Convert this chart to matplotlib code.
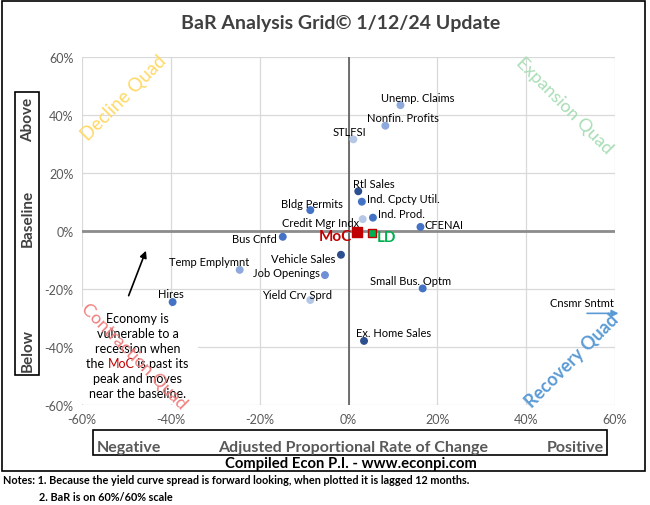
import matplotlib
matplotlib.use("Agg")
import matplotlib.pyplot as plt
from matplotlib.patches import Rectangle

plt.rcParams['font.family'] = ['Lato', 'DejaVu Sans']

# indicator values, in percent (x = adjusted proportional rate of change, y = BaR)
names = ['Unemp. Claims', 'Nonfin. Profits', 'STLFSI', 'Rtl Sales', 'Ind. Cpcty Util.',
         'Credit Mgr Indx', 'Ind. Prod.', 'CFENAI', 'Bldg Permits', 'Bus Cnfd',
         'Vehicle Sales', 'Temp Emplymnt', 'Job Openings', 'Small Bus. Optm',
         'Yield Crv Sprd', 'Hires', 'Ex. Home Sales']
x_vals = [11.7, 8.3, 1.1, 2.2, 3.0, 3.2, 5.5, 16.2, -8.6, -14.8,
          -1.7, -24.5, -5.3, 16.7, -8.6, -39.6, 3.5]
y_vals = [43.4, 36.3, 31.6, 13.7, 10.1, 4.1, 4.6, 1.4, 7.2, -2.0,
          -8.2, -13.4, -15.2, -19.8, -23.8, -24.5, -37.9]

moc = (2.0, -0.3)
ld = (5.2, -0.7)
cnsmr_y = -28.4   # off the scale to the right, drawn as an arrow

ticks = [-60, -40, -20, 0, 20, 40, 60]
tick_labels = ['-60%', '-40%', '-20%', '0%', '20%', '40%', '60%']

# styles
navy, mid, light, pale = '#2E4F8F', '#4472C4', '#8EA9DB', '#B4C7E7'
colors = [light, light, pale, navy, mid, pale, mid, mid, mid, mid,
          navy, light, '#6F8FD6', mid, pale, mid, navy]
# label offsets in pixels and horizontal alignment
label_pos = {
    'Unemp. Claims': (17, 8, 'center'), 'Nonfin. Profits': (18, 8, 'center'),
    'STLFSI': (-4, 8, 'center'), 'Rtl Sales': (16, 8, 'center'),
    'Ind. Cpcty Util.': (5, 3, 'left'), 'Credit Mgr Indx': (-4, -3, 'right'),
    'Ind. Prod.': (5, 4, 'left'), 'CFENAI': (4, 2, 'left'),
    'Bldg Permits': (2, 7, 'center'), 'Bus Cnfd': (-6, -2, 'right'),
    'Vehicle Sales': (-6, -4, 'right'), 'Temp Emplymnt': (-31, 8, 'center'),
    'Job Openings': (-5, 3, 'right'), 'Small Bus. Optm': (-12, 8, 'center'),
    'Yield Crv Sprd': (-13, 6, 'center'), 'Hires': (-2, 9, 'center'),
    'Ex. Home Sales': (30, 8, 'center'),
}

W, H = 650, 506
fig = plt.figure(figsize=(W / 100, H / 100), dpi=100)
ax = fig.add_axes([82 / W, 1 - 406 / H, 533 / W, 348 / H])
ax.set_xlim(-60, 60)
ax.set_ylim(-60, 60)
ax.set_xticks(ticks)
ax.set_xticklabels(tick_labels)
ax.set_yticks(ticks)
ax.set_yticklabels(tick_labels)
ax.tick_params(length=0, labelsize=9, labelcolor='#595959', pad=6)
for s in ax.spines.values():
    s.set_visible(False)
ax.set_axisbelow(True)
ax.grid(color='#D9D9D9', lw=0.9)
ax.axvline(0, color='#595959', lw=1.2, zorder=1.2)
ax.axhline(0, color='#8C8C8C', lw=2, zorder=1.2)

ax.scatter(x_vals, y_vals, s=22, c=colors, zorder=3)
for n, x, y in zip(names, x_vals, y_vals):
    dx, dy, ha = label_pos[n]
    ax.annotate(n, (x, y), xytext=(dx, dy), textcoords='offset pixels',
                ha=ha, va='center', fontsize=8, color='black', zorder=4)

ax.scatter([moc[0]], [moc[1]], marker='s', s=45, color='#C00000', zorder=4)
ax.scatter([ld[0]], [ld[1]], marker='s', s=28, color='#00B050',
           edgecolors='#C00000', linewidths=1, zorder=4)
ax.annotate('MoC', moc, xytext=(-5, -4), textcoords='offset pixels', ha='right',
            va='center', fontsize=11, fontweight='bold', color='#C00000', zorder=5)
ax.annotate('LD', ld, xytext=(5, -4), textcoords='offset pixels', ha='left',
            va='center', fontsize=11, fontweight='bold', color='#00B050', zorder=5)

# consumer sentiment is off the scale
ax.annotate('', xy=(60.8, cnsmr_y), xytext=(53.7, cnsmr_y),
            arrowprops=dict(arrowstyle='-|>', color='#5B9BD5', lw=1.2,
                            mutation_scale=10, shrinkA=0, shrinkB=0),
            annotation_clip=False, zorder=4)
ax.annotate('Cnsmr Sntmt', (53.7, cnsmr_y), xytext=(-5, 11),
            textcoords='offset pixels', ha='center', va='center', fontsize=8,
            annotation_clip=False, zorder=4)

# quadrant names
ax.text(-50.5, 46, 'Decline Quad', rotation=45, color='#FFD966', fontsize=13.5,
        ha='center', va='center', zorder=2)
ax.text(48.5, 43.5, 'Expansion Quad', rotation=-45, color='#A8DDB5', fontsize=13,
        ha='center', va='center', zorder=2)
ax.text(-48.3, -42.8, 'Contraction Quad', rotation=-45, color='#F08080', fontsize=13,
        ha='center', va='center', zorder=6)
ax.text(50.2, -44.5, 'Recovery Quad', rotation=45, color='#5B9BD5', fontsize=13,
        fontweight='bold', ha='center', va='center', zorder=2)

# note box
ax.add_patch(Rectangle((-60, -59.6), 26.2, 33.4, facecolor='white',
                       edgecolor='none', zorder=1.5))
ax.annotate('', xy=(-45.6, -6.8), xytext=(-49.5, -22.3),
            arrowprops=dict(arrowstyle='-|>', color='black', lw=1.2,
                            mutation_scale=10, shrinkA=0, shrinkB=0), zorder=5)
note_lines = [[('Economy is', 'black')], [('vulnerable to a', 'black')],
              [('recession when', 'black')],
              [('the ', 'black'), ('MoC', '#C00000'), (' is past its', 'black')],
              [('peak and moves', 'black')], [('near the baseline.', 'black')]]
cx, cy = -47.5, -42.9
renderer = fig.canvas.get_renderer()
for i, parts in enumerate(note_lines):
    dy = (2.5 - i) * 14.9 - 4
    pieces = []
    for txt, col in parts:
        t = ax.annotate(txt, (cx, cy), xytext=(0, dy), textcoords='offset pixels',
                        ha='left', va='baseline', fontsize=9, color=col, zorder=5)
        pieces.append(t)
    widths = [p.get_window_extent(renderer).width for p in pieces]
    x0 = -sum(widths) / 2
    for p, w in zip(pieces, widths):
        p.xyann = (x0, dy)
        x0 += w

# frames and side texts
fig.patches.append(Rectangle((2 / W, 1 - 472 / H), 643 / W, 470 / H, transform=fig.transFigure,
                             fill=False, edgecolor='black', lw=1.2))
fig.patches.append(Rectangle((15 / W, 1 - 376 / H), 24 / W, 283 / H, transform=fig.transFigure,
                             fill=False, edgecolor='black', lw=1.2))
fig.patches.append(Rectangle((93 / W, 1 - 456 / H), 514 / W, 25 / H, transform=fig.transFigure,
                             fill=False, edgecolor='black', lw=1.2))

side_style = dict(rotation=90, fontsize=11, fontweight='bold', color='#404040',
                  ha='center', va='center')
fig.text(28 / W, 1 - 120 / H, 'Above', **side_style)
fig.text(28 / W, 1 - 218 / H, 'Baseline', **side_style)
fig.text(28 / W, 1 - 350 / H, 'Below', **side_style)

bottom_style = dict(fontsize=11.5, fontweight='bold', color='#595959', va='center')
fig.text(97 / W, 1 - 448 / H, 'Negative', ha='left', **bottom_style)
fig.text(353 / W, 1 - 448 / H, 'Adjusted Proportional Rate of Change', ha='center', **bottom_style)
fig.text(604 / W, 1 - 448 / H, 'Positive', ha='right', **bottom_style)
fig.text(351 / W, 1 - 464 / H, 'Compiled Econ P.I. - www.econpi.com', ha='center',
         va='center', fontsize=10.7, fontweight='bold', color='black')

fig.text(341 / W, 1 - 23 / H, 'BaR Analysis Grid\u00a9 1/12/24 Update', ha='center',
         va='center', fontsize=14, fontweight='bold', color='#404040')

fig.text(3 / W, 1 - 481 / H, 'Notes: 1. Because the yield curve spread is forward looking, '
         'when plotted it is lagged 12 months.', ha='left', va='center',
         fontsize=7.8, fontweight='bold', color='black')
fig.text(39 / W, 1 - 498 / H, '2. BaR is on 60%/60% scale', ha='left', va='center',
         fontsize=7.8, fontweight='bold', color='black')

fig.savefig('out.png', dpi=100)
